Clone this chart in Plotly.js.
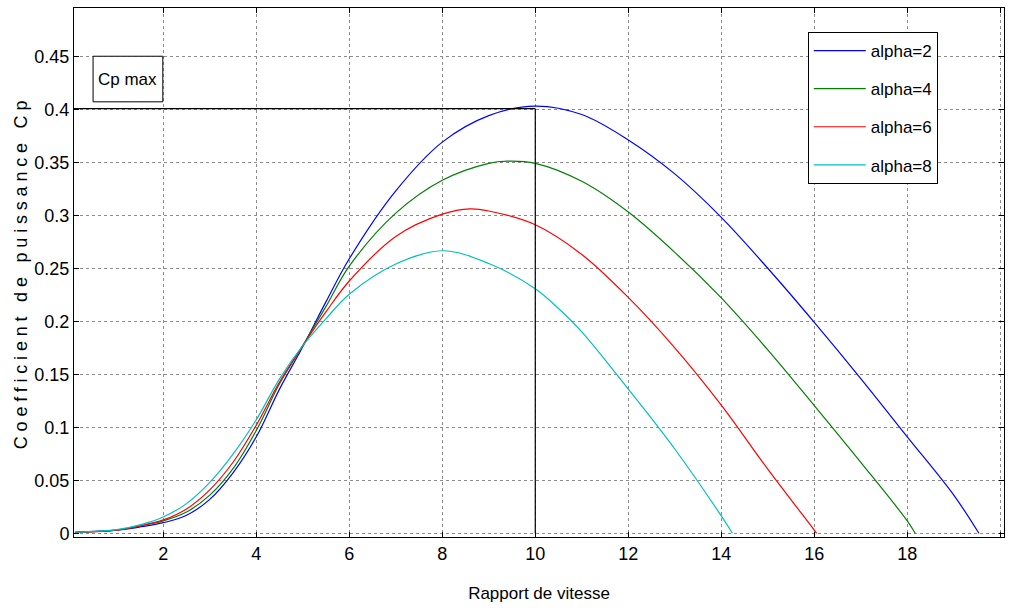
<!DOCTYPE html>
<html>
<head>
<meta charset="utf-8">
<script src="https://cdn.plot.ly/plotly-3.0.1.min.js"></script>
<style>
  html, body { margin: 0; padding: 0; background: #fff; }
  #chart { width: 1010px; height: 613px; }
  .ytitle { letter-spacing: 4.8px; }
</style>
</head>
<body>
<div id="chart"></div>
<script>
// ---- Data ----
const seriesNames = ["alpha=2", "alpha=4", "alpha=6", "alpha=8"];
const seriesColors = ["#0000ff", "#008000", "#ff0000", "#00bfbf"];

const lambdaA2 = [0.1, 1, 1.5, 2, 2.5, 3, 3.5, 4, 4.5, 5, 5.5, 6, 7, 8, 9, 10, 11, 12, 13, 14, 15, 16, 17, 18, 19, 19.54];
const cpA2     = [0.001, 0.003, 0.006, 0.010, 0.017, 0.032, 0.057, 0.091, 0.136, 0.176, 0.2185, 0.259, 0.323, 0.369, 0.394, 0.403, 0.395, 0.371, 0.339, 0.298, 0.250, 0.199, 0.146, 0.091, 0.036, 0];

const lambdaA4 = [0.1, 1, 1.5, 2, 2.5, 3, 3.5, 4, 4.5, 5, 5.5, 6, 7, 8, 9, 9.4, 10, 11, 12, 13, 14, 15, 16, 17, 18, 18.17];
const cpA4     = [0.001, 0.003, 0.007, 0.0117, 0.020, 0.036, 0.061, 0.097, 0.141, 0.177, 0.214, 0.252, 0.302, 0.333, 0.349, 0.351, 0.349, 0.332, 0.303, 0.265, 0.222, 0.173, 0.1204, 0.0669, 0.0117, 0];

const lambdaA6 = [0.1, 1, 1.5, 2, 2.5, 3, 3.5, 4, 4.5, 5, 5.5, 6, 7, 8, 8.6, 9, 10, 11, 12, 13, 14, 15, 16, 16.05];
const cpA6     = [0.001, 0.003, 0.007, 0.0126, 0.023, 0.041, 0.067, 0.102, 0.1426, 0.177, 0.209, 0.238, 0.280, 0.301, 0.306, 0.304, 0.291, 0.263, 0.2225, 0.175, 0.121, 0.0605, 0.003, 0];

const lambdaA8 = [0.1, 1, 1.5, 2, 2.5, 3, 3.5, 4, 4.5, 5, 5.5, 6, 7, 8, 9, 10, 10.5, 11, 12, 13, 14, 14.24];
const cpA8     = [0.001, 0.0035, 0.008, 0.0154, 0.028, 0.048, 0.0747, 0.1071, 0.1457, 0.177, 0.2025, 0.2255, 0.254, 0.2665, 0.2545, 0.2307, 0.212, 0.190, 0.136, 0.0795, 0.0164, 0];

const xTickVals = [2, 4, 6, 8, 10, 12, 14, 16, 18, 20];
const xTickText = ["2", "4", "6", "8", "10", "12", "14", "16", "18", "20"];
const yTickVals = [0, 0.05, 0.1, 0.15, 0.2, 0.25, 0.3, 0.35, 0.4, 0.45];
const yTickText = ["0", "0.05", "0.1", "0.15", "0.2", "0.25", "0.3", "0.35", "0.4", "0.45"];

const cpMax = 0.4005;       // Cp max marker line level
const lambdaOpt = 10;       // lambda at Cp max
const cpBoxX = [0.49, 1.99];
const cpBoxY = [0.407, 0.450];

// ---- Chart ----
const xs = [lambdaA2, lambdaA4, lambdaA6, lambdaA8];
const ys = [cpA2, cpA4, cpA6, cpA8];
const sans = "'Liberation Sans', Arial, sans-serif";

const traces = seriesNames.map((name, i) => ({
  x: xs[i], y: ys[i], name: name, type: "scatter", mode: "lines",
  legendgroup: "g" + i,
  line: { color: seriesColors[i], width: 1.2, shape: "spline", smoothing: 1.0 }
}));

const xMin = 0.08, xMax = 20.08;

const layout = {
  width: 1010, height: 613,
  margin: { l: 74, r: 6, t: 8, b: 76 },
  paper_bgcolor: "#ffffff", plot_bgcolor: "#ffffff",
  showlegend: true,
  legend: {
    x: 0.789, y: 0.9546, xanchor: "left", yanchor: "top",
    bgcolor: "#ffffff", bordercolor: "#000000", borderwidth: 1,
    font: { family: sans, size: 17, color: "#000" },
    tracegroupgap: 13, itemwidth: 52
  },
  xaxis: {
    range: [xMin, xMax],
    tickvals: xTickVals, ticktext: xTickText,
    ticks: "inside", ticklen: 5, tickcolor: "#000",
    showline: true, linecolor: "#000", linewidth: 1, mirror: "allticks",
    showgrid: true, gridcolor: "#8c8c8c", gridwidth: 1, griddash: "dot",
    zeroline: false,
    tickfont: { family: sans, size: 18, color: "#000" },
    title: { text: "Rapport de vitesse", font: { family: sans, size: 17, color: "#000" }, standoff: 24 }
  },
  yaxis: {
    range: [-0.0035, 0.4955],
    tickvals: yTickVals, ticktext: yTickText,
    ticks: "inside", ticklen: 5, tickcolor: "#000",
    showline: true, linecolor: "#000", linewidth: 1, mirror: "allticks",
    showgrid: true, gridcolor: "#8c8c8c", gridwidth: 1, griddash: "dot",
    zeroline: false,
    tickfont: { family: sans, size: 18, color: "#000" },
    title: { text: "Coefficient de puissance Cp", font: { family: sans, size: 18, color: "#000" }, standoff: 2 }
  },
  shapes: [
    { type: "line", xref: "x", yref: "y", x0: xMin, x1: lambdaOpt, y0: cpMax, y1: cpMax,
      line: { color: "#000", width: 1.2 } },
    { type: "line", xref: "x", yref: "y", x0: lambdaOpt, x1: lambdaOpt, y0: 0, y1: cpMax,
      line: { color: "#000", width: 1.2 } },
    { type: "rect", xref: "x", yref: "y", x0: cpBoxX[0], x1: cpBoxX[1], y0: cpBoxY[0], y1: cpBoxY[1],
      line: { color: "#000", width: 1 }, fillcolor: "#ffffff", layer: "above" }
  ],
  annotations: [
    { text: "Cp max", xref: "x", yref: "y", x: (cpBoxX[0] + cpBoxX[1]) / 2, y: (cpBoxY[0] + cpBoxY[1]) / 2,
      showarrow: false, font: { family: sans, size: 17, color: "#000" } }
  ]
};

Plotly.newPlot("chart", traces, layout, { displayModeBar: false, staticPlot: true });
</script>
</body>
</html>
